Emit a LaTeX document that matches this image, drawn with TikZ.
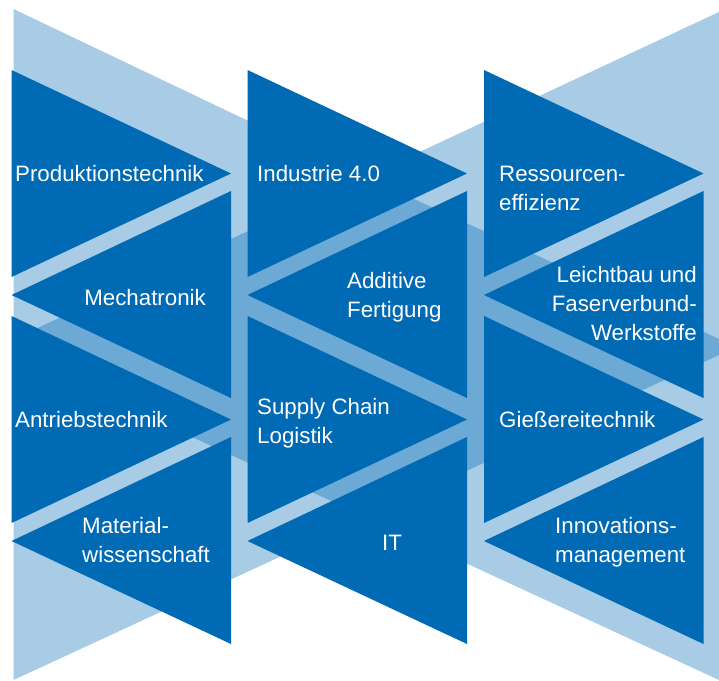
\documentclass[tikz,border=0pt]{standalone}
\usepackage{fontspec}
\setmainfont{Liberation Sans}
\usepackage{tikz}
\usetikzlibrary{calc}

\definecolor{darkblue}{HTML}{006AB4}
\definecolor{midblue}{HTML}{6CA9D5}
\definecolor{lightblue}{HTML}{A8CCE5}

\begin{document}
\begin{tikzpicture}[x=1pt,y=-1pt]

                \tikzstyle{tri}   = [fill=darkblue]
                \tikzstyle{topic} = [text=white, inner sep=0pt, font=\fontsize{22.3}{29}\selectfont]
                \useasboundingbox (0,0) rectangle (719,680);
                % background bands
                \fill [lightblue] (13.5,9) -- (366,177) -- (719,12) -- (719,680) -- (366,517) -- (13.5,680) -- cycle;
                \fill [midblue] (13.5,339) -- (366,177) -- (719,339) -- (719,355) -- (366,517) -- (13.5,355) -- cycle;
                % triangles, three columns
                \foreach \x in {11.5,247.5,484} {
                        \fill [tri] (\x,70) -- ++(219.5,103.5) -- ++(-219.5,103.5) -- cycle;
                        \fill [tri] (\x+219.5,191) -- ++(-219.5,104) -- ++(219.5,103) -- cycle;
                        \fill [tri] (\x,316) -- ++(219.5,103.5) -- ++(-219.5,103.5) -- cycle;
                        \fill [tri] (\x+219.5,437) -- ++(-219.5,104) -- ++(219.5,103) -- cycle;
                }
                % labels (base of a multi-line node = its last line)
                \node [topic, anchor=base west] (prod) at (15,181.5) {Produktionstechnik};
                \node [topic, anchor=base east] (mecha) at (206,305) {Mechatronik};
                \node [topic, anchor=base west] (antrieb) at (15,427) {Antriebstechnik};
                \node [topic, anchor=base west, align=left] (mat) at (82,562) {Material-\\wissenschaft};
                \node [topic, anchor=base west] (ind) at (257,181.5) {Industrie 4.0};
                \node [topic, anchor=base west, align=left] (add) at (347,317) {Additive\\Fertigung};
                \node [topic, anchor=base west, align=left] (scm) at (257,443) {Supply Chain\\Logistik};
                \node [topic, anchor=base] (it) at (392,550) {IT};
                \node [topic, anchor=base west, align=left] (res) at (499,210.5) {Ressourcen-\\effizienz};
                \node [topic, anchor=base east, align=right] (leicht) at (697,340) {Leichtbau und\\Faserverbund-\\Werkstoffe};
                \node [topic, anchor=base west] (giess) at (499,427) {Gießereitechnik};
                \node [topic, anchor=base west, align=left] (inno) at (555,562) {Innovations-\\management};
\end{tikzpicture}
\end{document}
